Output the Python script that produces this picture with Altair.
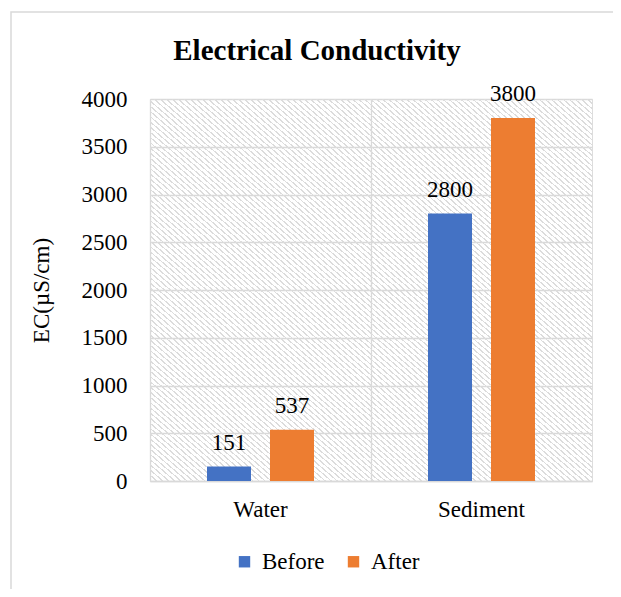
import altair as alt
import pandas as pd

# ---- data ----
categories = ["Water", "Sediment"]
series = ["Before", "After"]
before_values = [151, 2800]
after_values = [537, 3800]
y_ticks = [0, 500, 1000, 1500, 2000, 2500, 3000, 3500, 4000]
colors = ["#4472C4", "#ED7D31"]

rows = []
for c, b, a in zip(categories, before_values, after_values):
    rows.append({"Sample": c, "Series": "Before", "EC": b})
    rows.append({"Sample": c, "Series": "After", "EC": a})
df = pd.DataFrame(rows)

W, H = 442, 382
FONT = "Liberation Serif"
GRID = "#d9d9d9"
FS = 23

# diagonal hatch for the plot background (style only)
N = 147
stops = []
for i in range(N):
    s = i / N
    e = (i + 1) / N
    w = (e - s) * 0.3
    stops += [
        {"offset": s, "color": "#dcdcdc"},
        {"offset": s + w, "color": "#dcdcdc"},
        {"offset": s + w, "color": "rgba(255,255,255,0)"},
        {"offset": e, "color": "rgba(255,255,255,0)"},
    ]
hatch = {"gradient": "linear", "x1": 0, "y1": 1, "x2": 1, "y2": 0, "stops": stops}

one = pd.DataFrame({"d": [0]})

bg = alt.Chart(one).mark_rect(fill=hatch).encode(
    x=alt.value(0), x2=alt.value(W), y=alt.value(0), y2=alt.value(H)
)

x_enc = alt.X(
    "Sample:N",
    sort=categories,
    scale=alt.Scale(paddingInner=0, paddingOuter=0),
    axis=alt.Axis(
        title=None,
        labelAngle=0,
        labelFont=FONT,
        labelFontSize=FS,
        labelColor="black",
        labelPadding=17,
        ticks=False,
        domain=True,
        domainColor=GRID,
        domainWidth=1.3,
        grid=True,
        gridColor=GRID,
        gridWidth=1.3,
        bandPosition=0,
    ),
)
xo_enc = alt.XOffset(
    "Series:N", sort=series, scale=alt.Scale(paddingInner=0.3016, paddingOuter=0.905)
)
y_enc = alt.Y(
    "EC:Q",
    scale=alt.Scale(domain=[0, 4000], nice=False),
    axis=alt.Axis(
        values=y_ticks,
        format="d",
        title="EC(µS/cm)",
        titleFont=FONT,
        titleFontSize=FS,
        titleFontWeight="normal",
        titleColor="black",
        titleX=-102,
        titleY=H / 2,
        titleBaseline="alphabetic",
        titleAlign="center",
        labelFont=FONT,
        labelFontSize=FS,
        labelColor="black",
        labelPadding=23,
        ticks=False,
        domain=False,
        grid=True,
        gridColor=GRID,
        gridWidth=1.3,
    ),
)

base = alt.Chart(df)

bars = base.mark_bar().encode(
    x=x_enc,
    xOffset=xo_enc,
    y=y_enc,
    color=alt.Color(
        "Series:N",
        scale=alt.Scale(domain=series, range=colors),
        legend=alt.Legend(
            title=None,
            orient="none",
            legendX=83,
            legendY=451,
            direction="horizontal",
            symbolType="square",
            symbolSize=130,
            symbolStrokeWidth=0,
            symbolOpacity=1,
            labelFont=FONT,
            labelFontSize=FS,
            labelColor="black",
            labelOffset=6,
            columnPadding=17,
        ),
    ),
)

labels = base.mark_text(
    dy=-17, baseline="alphabetic", font=FONT, fontSize=FS, color="black"
).encode(x=x_enc, xOffset=xo_enc, y=y_enc, text=alt.Text("EC:Q"))

border = alt.Chart(one).mark_rect(
    fill="transparent", stroke=GRID, strokeWidth=1.5
).encode(
    x=alt.value(-139), x2=alt.value(476), y=alt.value(-87), y2=alt.value(497)
)

chart = (
    alt.layer(bg, bars, labels, border)
    .properties(
        width=W,
        height=H,
        autosize=alt.AutoSizeParams(type="none"),
        padding={"left": 142, "top": 91, "right": 21, "bottom": 108},
        title=alt.TitleParams(
            "Electrical Conductivity",
            font=FONT,
            fontSize=29,
            fontWeight="bold",
            color="black",
            anchor="middle",
            frame="group",
            dx=-54,
            offset=-78,
            baseline="alphabetic",
        ),
    )
    .configure_view(stroke=GRID, strokeWidth=1.3)
    .configure(background="white", font=FONT)
)

chart.save("out.html", embed_options={"renderer": "svg", "actions": False})
